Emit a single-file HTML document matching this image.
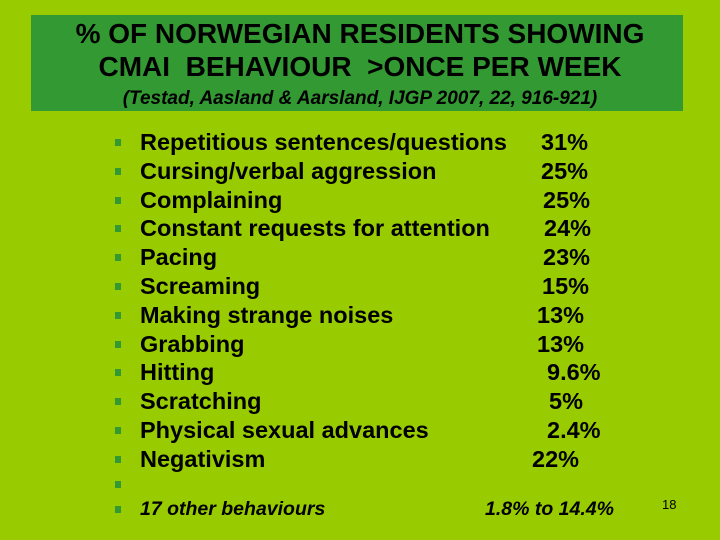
<!DOCTYPE html>
<html><head><meta charset="utf-8"><style>
body{margin:0;width:720px;height:540px;background:#99cc00;position:relative;overflow:hidden;font-family:"Liberation Sans",Arial,sans-serif;color:#000}
.box{position:absolute;left:31px;top:15px;width:652px;height:96px;background:#339933}
.t{position:absolute;left:0;width:720px;text-align:center;font-weight:bold;white-space:nowrap}
.row{position:absolute;left:0;height:29px;width:720px;font-weight:bold;font-size:23.5px;line-height:29px;white-space:nowrap}
.b{position:absolute;left:115px;top:11px;width:6px;height:7px;background:#339933}
.l{position:absolute;left:140px}
.v{position:absolute}
</style></head><body>
<div class="box"></div>
<div class="t" style="top:18px;font-size:28px">% OF NORWEGIAN RESIDENTS SHOWING</div>
<div class="t" style="top:51px;font-size:28px">CMAI&nbsp; BEHAVIOUR&nbsp; &gt;ONCE PER WEEK</div>
<div class="t" style="top:88px;font-size:19px;font-style:italic">(Testad, Aasland &amp; Aarsland, IJGP 2007, 22, 916-921)</div>
<div id="list"></div>
<div style="position:absolute;left:662px;top:497px;font-size:13px">18</div>
<script>
const labels=["Repetitious sentences/questions","Cursing/verbal aggression","Complaining","Constant requests for attention","Pacing","Screaming","Making strange noises","Grabbing","Hitting","Scratching","Physical sexual advances","Negativism"];
const values=["31%","25%","25%","24%","23%","15%","13%","13%","9.6%","5%","2.4%","22%"];
const valueX=[541,541,543,544,543,542,537,537,547,549,547,532];
const list=document.getElementById('list');
function row(top,label,val,vx,italic){
  const r=document.createElement('div');r.className='row';r.style.top=top+'px';
  
  
  if(italic){r.style.fontStyle='italic';r.style.fontSize='19.5px';}
  const b=document.createElement('div');b.className='b';
  
  
  r.appendChild(b);
  if(label){const l=document.createElement('span');l.className='l';l.textContent=label;
  
  
  r.appendChild(l);}
  if(val){const v=document.createElement('span');v.className='v';v.style.left=vx+'px';v.textContent=val;
  
  
  r.appendChild(v);}
  list.appendChild(r);
}
labels.forEach((l,i)=>row(128+i*28.8,l,values[i],valueX[i],false));
row(470,"","",0,false);
row(495,"17 other behaviours","1.8% to 14.4%",485,true);
</script>
</body></html>
